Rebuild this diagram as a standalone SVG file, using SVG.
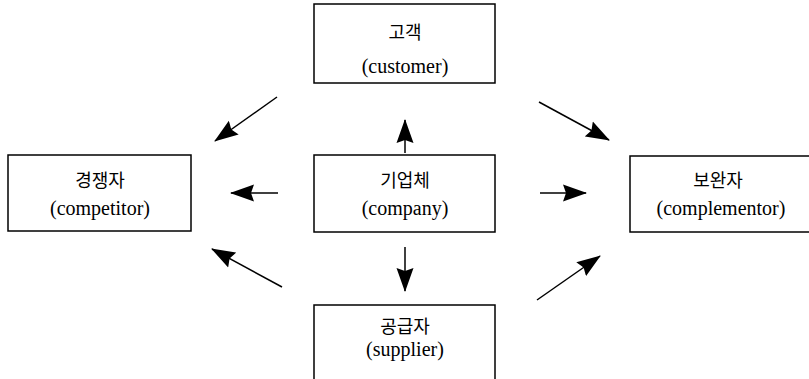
<svg xmlns="http://www.w3.org/2000/svg" width="809" height="379" viewBox="0 0 809 379">
<defs>
<marker id="ah" markerWidth="24" markerHeight="18" refX="23" refY="9" orient="auto" markerUnits="userSpaceOnUse">
<path d="M0,0.5 L24,9 L0,17.5 L3,9 Z" fill="#000"/>
</marker>
</defs>
<style>
.box{fill:#fff;stroke:#000;stroke-width:1.5}
.ko{font-family:"Noto Sans CJK KR","Noto Sans",sans-serif;font-size:18px;text-anchor:middle;fill:#000}
.en{font-family:"Liberation Serif",serif;font-size:20px;text-anchor:middle;fill:#000}
.c{stroke:#000;stroke-width:1.5;fill:none;marker-end:url(#ah)}
</style>
<rect width="809" height="379" fill="#fff"/>
<g id="customer">
<rect class="box" x="314" y="4" width="181" height="79"/>
<text class="ko" x="405" y="39">고객</text>
<text class="en" x="405" y="73">(customer)</text>
</g>
<g id="competitor">
<rect class="box" x="8" y="155" width="183" height="76"/>
<text class="ko" x="100" y="187">경쟁자</text>
<text class="en" x="100" y="215">(competitor)</text>
</g>
<g id="company">
<rect class="box" x="314" y="155" width="181" height="77"/>
<text class="ko" x="405" y="187">기업체</text>
<text class="en" x="405" y="215">(company)</text>
</g>
<g id="complementor">
<rect class="box" x="630" y="156" width="185" height="76"/>
<text class="ko" x="718" y="187">보완자</text>
<text class="en" x="721" y="215">(complementor)</text>
</g>
<g id="supplier">
<rect class="box" x="314" y="305" width="181" height="90"/>
<text class="ko" x="405" y="333">공급자</text>
<text class="en" x="405" y="356">(supplier)</text>
</g>
<g id="connectors">
<line class="c" x1="405" y1="153" x2="405" y2="120"/>
<line class="c" x1="405" y1="247" x2="405" y2="291"/>
<line class="c" x1="278" y1="193" x2="231" y2="193"/>
<line class="c" x1="540" y1="193" x2="586" y2="193"/>
<line class="c" x1="277" y1="97" x2="215" y2="141"/>
<line class="c" x1="539" y1="102" x2="609" y2="140"/>
<line class="c" x1="282" y1="287" x2="212" y2="249"/>
<line class="c" x1="537" y1="300" x2="600" y2="256"/>
</g>
</svg>
